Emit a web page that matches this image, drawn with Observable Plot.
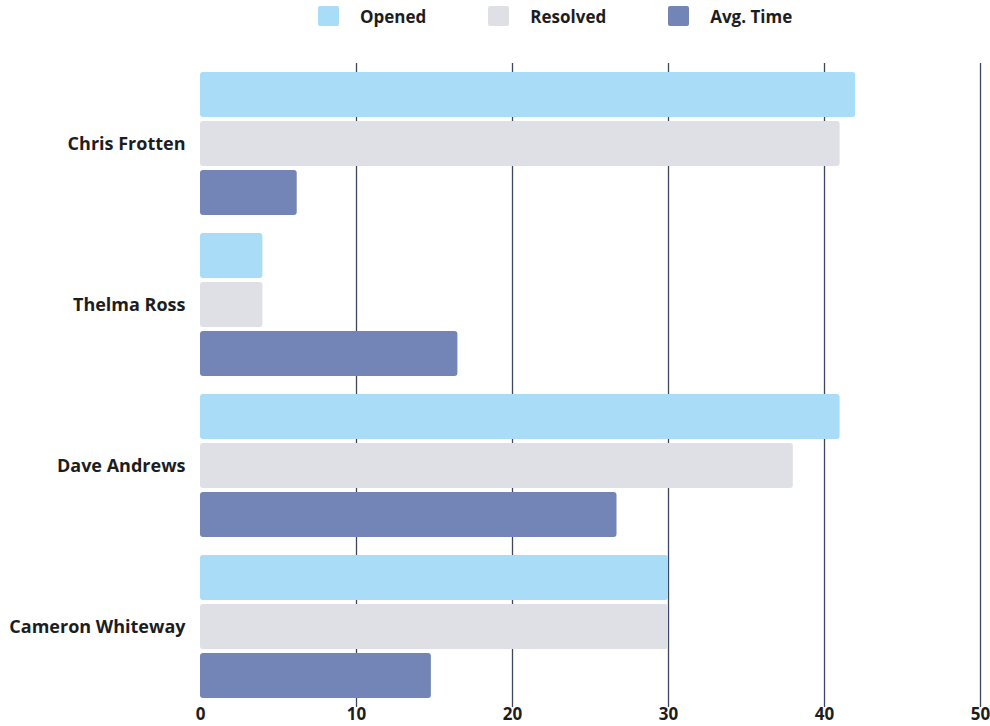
<!DOCTYPE html>
<html>
<head>
<meta charset="utf-8">
<script src="https://cdn.jsdelivr.net/npm/d3@7"></script>
<script src="https://cdn.jsdelivr.net/npm/@observablehq/plot@0.6"></script>
<style>
  html, body { margin: 0; padding: 0; background: #fff; }
  body { width: 990px; height: 726px; overflow: hidden; font-family: "Open Sans", Inter, sans-serif; }
  #legend { height: 32px; display: flex; align-items: center; padding-left: 318px; box-sizing: border-box; font-weight: 700; font-size: 17px; color: #1d1d1f; }
  .item { display: flex; align-items: center; margin-right: 62px; }
  .sw { width: 21px; height: 20px; border-radius: 2px; margin-right: 21px; }
  #chart svg { display: block; }
  #chart svg g[aria-label^="fy-axis"] text { font-size: 18px; }
</style>
</head>
<body>
<div id="legend"></div>
<div id="chart"></div>
<script>
const names = ["Chris Frotten", "Thelma Ross", "Dave Andrews", "Cameron Whiteway"];
const series = ["Opened", "Resolved", "Avg. Time"];
const opened = [42, 4, 41, 30];
const resolved = [41, 4, 38, 30];
const avgTime = [6.2, 16.5, 26.7, 14.8];
const xTicks = [0, 10, 20, 30, 40, 50];
const gridTicks = [10, 20, 30, 40, 50];
const colors = ["#a8dcf7", "#dfe0e5", "#7385b6"];

const rows = [];
names.forEach((n, i) => {
  rows.push({name: n, series: series[0], value: opened[i]});
  rows.push({name: n, series: series[1], value: resolved[i]});
  rows.push({name: n, series: series[2], value: avgTime[i]});
});

const legend = document.getElementById("legend");
series.forEach((s, i) => {
  const it = document.createElement("div");
  it.className = "item";
  const sw = document.createElement("div");
  sw.className = "sw";
  sw.style.background = colors[i];
  const lb = document.createElement("span");
  lb.textContent = s;
  it.appendChild(sw); it.appendChild(lb);
  legend.appendChild(it);
});

const chart = Plot.plot({
  width: 990,
  height: 694,
  marginTop: 30,
  marginBottom: 18,
  marginLeft: 200,
  marginRight: 10,
  style: {fontFamily: "'Open Sans', Inter, sans-serif", fontWeight: 700, fontSize: "17px", color: "#1d1d1f", background: "white", overflow: "visible"},
  facet: {data: rows, y: "name"},
  x: {domain: [0, 50], ticks: xTicks, tickSize: 0, tickPadding: 0, label: null},
  y: {domain: series, axis: null, paddingInner: 0.08, paddingOuter: 0.16},
  fy: {domain: names, padding: 0, tickSize: 0, tickPadding: 15, label: null},
  color: {domain: series, range: colors},
  marks: [
    Plot.ruleX(gridTicks, {stroke: "#3d4560", strokeWidth: 1.3}),
    Plot.barX(rows, {x: "value", y: "series", fill: "series", rx: 3})
  ]
});
document.getElementById("chart").appendChild(chart);
</script>
</body>
</html>
